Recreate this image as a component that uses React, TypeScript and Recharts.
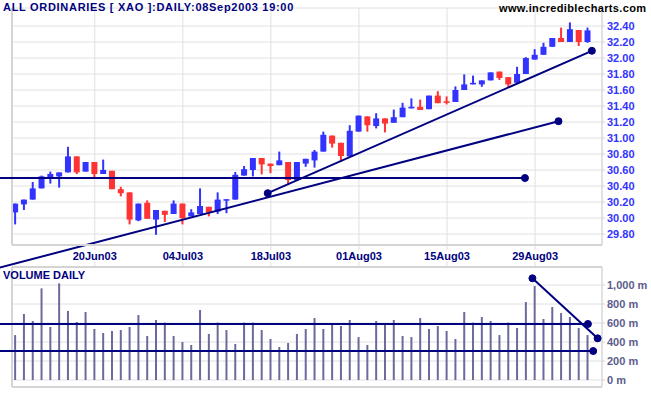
import React from "react";
import {
  ComposedChart,
  Bar,
  XAxis,
  YAxis,
  CartesianGrid,
  ReferenceLine,
  ReferenceDot,
} from "recharts";

const FONT = "'Liberation Sans', Arial, sans-serif";
const NAVY = "#000080";
const UP = "#3333ff";
const DOWN = "#ff3333";
const GRID = "#e0e0e0";
const FRAME = "#d4d4d4";

// trading days, index 0 = 06Jun03 ... index 65 = 08Sep03
const dateTicks = [9, 19, 29, 39, 49, 59];
const dateLabels = ["20Jun03", "04Jul03", "18Jul03", "01Aug03", "15Aug03", "29Aug03"];

const opens = [
  30.07, 30.17, 30.23, 30.37, 30.5, 30.52, 30.57, 30.77, 30.58, 30.7,
  30.55, 30.59, 30.36, 30.32, 29.97, 30.19, 29.98, 30.09, 30.05, 30.18,
  30.02, 30.05, 30.14, 30.08, 30.22, 30.23, 30.53, 30.6, 30.75, 30.68,
  30.66, 30.7, 30.475, 30.68, 30.72, 30.83, 31.03, 30.94, 30.77, 31.08,
  31.27, 31.15, 31.245, 31.19, 31.26, 31.37, 31.39, 31.36, 31.53, 31.46,
  31.45, 31.6, 31.67, 31.67, 31.72, 31.83, 31.76, 31.69, 31.8, 31.98,
  32.04, 32.14, 32.25, 32.2, 32.35, 32.2,
];
const highs = [
  30.18, 30.23, 30.45, 30.53, 30.58, 30.57, 30.89, 30.77, 30.7, 30.7,
  30.73, 30.59, 30.39, 30.32, 30.18, 30.22, 30.1, 30.09, 30.22, 30.18,
  30.11, 30.37, 30.14, 30.32, 30.235, 30.575, 30.65, 30.75, 30.75, 30.68,
  30.83, 30.7, 30.7, 30.74, 30.85, 31.08, 31.03, 30.94, 31.16, 31.28,
  31.27, 31.31, 31.245, 31.355, 31.44, 31.495, 31.48, 31.53, 31.585, 31.52,
  31.645, 31.795, 31.78, 31.72, 31.82, 31.83, 31.76, 31.89, 32.01, 32.11,
  32.19, 32.25, 32.38, 32.445, 32.35, 32.38,
];
const lows = [
  29.92, 30.1, 30.23, 30.37, 30.43, 30.38, 30.57, 30.55, 30.58, 30.51,
  30.55, 30.36, 30.27, 29.92, 29.96, 29.99, 29.79, 29.95, 30.05, 29.92,
  30.02, 30.05, 30.02, 30.05, 30.06, 30.23, 30.53, 30.52, 30.545, 30.56,
  30.66, 30.425, 30.475, 30.64, 30.63, 30.83, 30.88, 30.7, 30.77, 31.08,
  31.08, 31.12, 31.07, 31.19, 31.26, 31.37, 31.35, 31.36, 31.435, 31.42,
  31.45, 31.6, 31.67, 31.64, 31.72, 31.725, 31.63, 31.69, 31.8, 31.98,
  32.04, 32.14, 32.2, 32.2, 32.15, 32.19,
];
const closes = [
  30.18, 30.23, 30.37, 30.52, 30.55, 30.57, 30.77, 30.57, 30.7, 30.55,
  30.6, 30.36, 30.31, 29.98, 30.18, 29.99, 30.1, 30.04, 30.18, 30.0,
  30.07, 30.15, 30.07, 30.23, 30.235, 30.54, 30.61, 30.75, 30.67, 30.65,
  30.72, 30.475, 30.7, 30.74, 30.83, 31.04, 30.93, 30.775, 31.09, 31.28,
  31.16, 31.245, 31.18, 31.26, 31.38, 31.39, 31.35, 31.53, 31.435, 31.44,
  31.6, 31.67, 31.69, 31.72, 31.82, 31.75, 31.67, 31.8, 32.0, 32.04,
  32.14, 32.25, 32.2, 32.36, 32.2, 32.345,
];
// volume, millions
const volumes = [
  473, 695, 621, 965, 558, 1018, 727, 611, 716, 537,
  495, 516, 526, 558, 684, 463, 632, 604, 463, 400,
  369, 737, 485, 604, 526, 379, 604, 604, 526, 432,
  347, 389, 485, 537, 652, 537, 589, 568, 632, 452,
  369, 621, 589, 632, 463, 452, 652, 537, 568, 516,
  432, 716, 604, 663, 621, 473, 604, 548, 821, 990,
  642, 768, 705, 663, 548, 473,
];

const priceTicks = [29.8, 30, 30.2, 30.4, 30.6, 30.8, 31, 31.2, 31.4, 31.6, 31.8, 32, 32.2, 32.4];
const volumeTicks = [0, 200, 400, 600, 800, 1000];

// hand drawn trend lines: [x1, y1, x2, y2, dotAtStart]
const priceLines: [number, number, number, number, boolean][] = [
  [-1.8, 30.5, 57.85, 30.5, false],
  [-1.8, 29.38, 61.66, 31.21, false],
  [28.64, 30.31, 65.45, 32.09, true],
];
const volumeLines: [number, number, number, number, boolean][] = [
  [-1.8, 590, 65, 590, false],
  [-1.8, 305, 65.6, 305, false],
  [58.7, 1071, 66.1, 439, true],
];

const X_DOMAIN: [number, number] = [-0.4, 66.6];
const PRICE_DOMAIN: [number, number] = [29.6625, 32.625];
const VOL_DOMAIN: [number, number] = [-74, 1190];

const rows = opens.map((o, i) => ({
  i,
  open: o,
  high: highs[i],
  low: lows[i],
  close: closes[i],
  range: [lows[i], highs[i]],
  vol: volumes[i],
}));

const Candle = (props: any) => {
  const { x, y, width, height, payload } = props;
  const { open, close, high, low } = payload;
  const top = Math.min(y, y + height);
  const h = Math.abs(height);
  const k = high > low ? h / (high - low) : 0;
  const cx = x + width / 2;
  const color = close >= open ? UP : DOWN;
  const bTop = top + (high - Math.max(open, close)) * k;
  const bH = Math.max(1.5, Math.abs(close - open) * k);
  return (
    <g>
      <rect x={cx - 1} y={top} width={2} height={Math.max(h, 1)} fill={color} />
      <rect x={cx - 3} y={bTop} width={6} height={bH} fill={color} />
    </g>
  );
};

const yTick = (fill: string, fmt: (v: number) => string) => (p: any) => (
  <text
    x={p.x}
    y={p.y}
    dy="0.355em"
    textAnchor="start"
    fill={fill}
    fontSize={11}
    fontWeight="bold"
    fontFamily={FONT}
  >
    {fmt(p.payload.value)}
  </text>
);

const drawLines = (lines: [number, number, number, number, boolean][]) =>
  lines.map(([x1, y1, x2, y2, both], n) => (
    <React.Fragment key={n}>
      <ReferenceLine
        segment={[{ x: x1, y: y1 }, { x: x2, y: y2 }]}
        stroke={NAVY}
        strokeWidth={2}
        ifOverflow="visible"
      />
      {both && <ReferenceDot x={x1} y={y1} r={3.5} fill={NAVY} stroke={NAVY} ifOverflow="visible" />}
      <ReferenceDot x={x2} y={y2} r={3.5} fill={NAVY} stroke={NAVY} ifOverflow="visible" />
    </React.Fragment>
  ));

// gridline stubs running into the gap between the panels
const stubs = (from: number, to: number) =>
  dateTicks.map((t) => (
    <ReferenceLine
      key={`s${t}`}
      segment={[{ x: t, y: from }, { x: t, y: to }]}
      stroke={GRID}
      ifOverflow="visible"
    />
  ));

const label = (extra: React.CSSProperties): React.CSSProperties => ({
  position: "absolute",
  fontFamily: FONT,
  fontWeight: "bold",
  fontSize: 11,
  whiteSpace: "nowrap",
  lineHeight: "12px",
  ...extra,
});

export default function App() {
  return (
    <div style={{ position: "absolute", left: 0, top: 0, width: 651, height: 395, background: "#fff" }}>
      <div style={{ position: "absolute", left: 0, top: 0 }}>
        <ComposedChart
          width={651}
          height={270}
          data={rows}
          margin={{ top: 8, right: 0, bottom: 0, left: 12 }}
          style={{ overflow: "visible" }}
        >
          <CartesianGrid stroke={GRID} />
          <XAxis
            dataKey="i"
            type="number"
            domain={X_DOMAIN}
            allowDataOverflow
            ticks={dateTicks}
            interval={0}
            tickFormatter={(v: number) => dateLabels[dateTicks.indexOf(v)] ?? ""}
            height={25}
            tickSize={0}
            tickMargin={7}
            axisLine={{ stroke: FRAME, strokeWidth: 2 }}
            tickLine={false}
            tick={{ fill: NAVY, fontSize: 11, fontWeight: "bold", fontFamily: FONT }}
          />
          <YAxis
            orientation="right"
            width={49}
            domain={PRICE_DOMAIN}
            allowDataOverflow
            ticks={priceTicks}
            interval={0}
            tickSize={3}
            tickMargin={2}
            axisLine={{ stroke: FRAME }}
            tickLine={{ stroke: FRAME }}
            tick={yTick(UP, (v) => v.toFixed(2))}
          />
          {stubs(PRICE_DOMAIN[0], 29.6)}
          <ReferenceLine x={X_DOMAIN[0]} stroke={FRAME} strokeWidth={2} ifOverflow="visible" />
          <Bar dataKey="range" barSize={6} shape={Candle} isAnimationActive={false} />
          {drawLines(priceLines)}
        </ComposedChart>
      </div>
      <div style={{ position: "absolute", left: 0, top: 262 }}>
        <ComposedChart
          width={651}
          height={133}
          data={rows}
          margin={{ top: 5, right: 0, bottom: 0, left: 12 }}
          style={{ overflow: "visible" }}
        >
          <CartesianGrid stroke={GRID} />
          <XAxis
            dataKey="i"
            type="number"
            domain={X_DOMAIN}
            allowDataOverflow
            ticks={dateTicks}
            interval={0}
            height={8}
            tick={false}
            tickLine={false}
            axisLine={{ stroke: FRAME, strokeWidth: 2 }}
          />
          <YAxis
            orientation="right"
            width={49}
            domain={VOL_DOMAIN}
            allowDataOverflow
            ticks={volumeTicks}
            interval={0}
            tickSize={3}
            tickMargin={2}
            axisLine={{ stroke: FRAME }}
            tickLine={{ stroke: FRAME }}
            tick={yTick("#5c5c8c", (v) => `${v.toLocaleString("en-US")} m`)}
          />
          {stubs(VOL_DOMAIN[1], 1264)}
          <ReferenceLine y={VOL_DOMAIN[1]} stroke={FRAME} strokeWidth={2} ifOverflow="visible" />
          <ReferenceLine x={X_DOMAIN[0]} stroke={FRAME} strokeWidth={2} ifOverflow="visible" />
          <Bar dataKey="vol" barSize={2} fill="#6a6a9c" isAnimationActive={false} />
          {drawLines(volumeLines)}
        </ComposedChart>
      </div>
      <div style={label({ left: 3, top: 1, color: NAVY, letterSpacing: 0.7 })}>
        ALL ORDINARIES [ XAO ]:DAILY:08Sep2003 19:00
      </div>
      <div style={label({ left: 499, top: 2, color: "#000", letterSpacing: 0.35 })}>
        www.incrediblecharts.com
      </div>
      <div style={label({ left: 3, top: 269, color: NAVY })}>VOLUME DAILY</div>
    </div>
  );
}
